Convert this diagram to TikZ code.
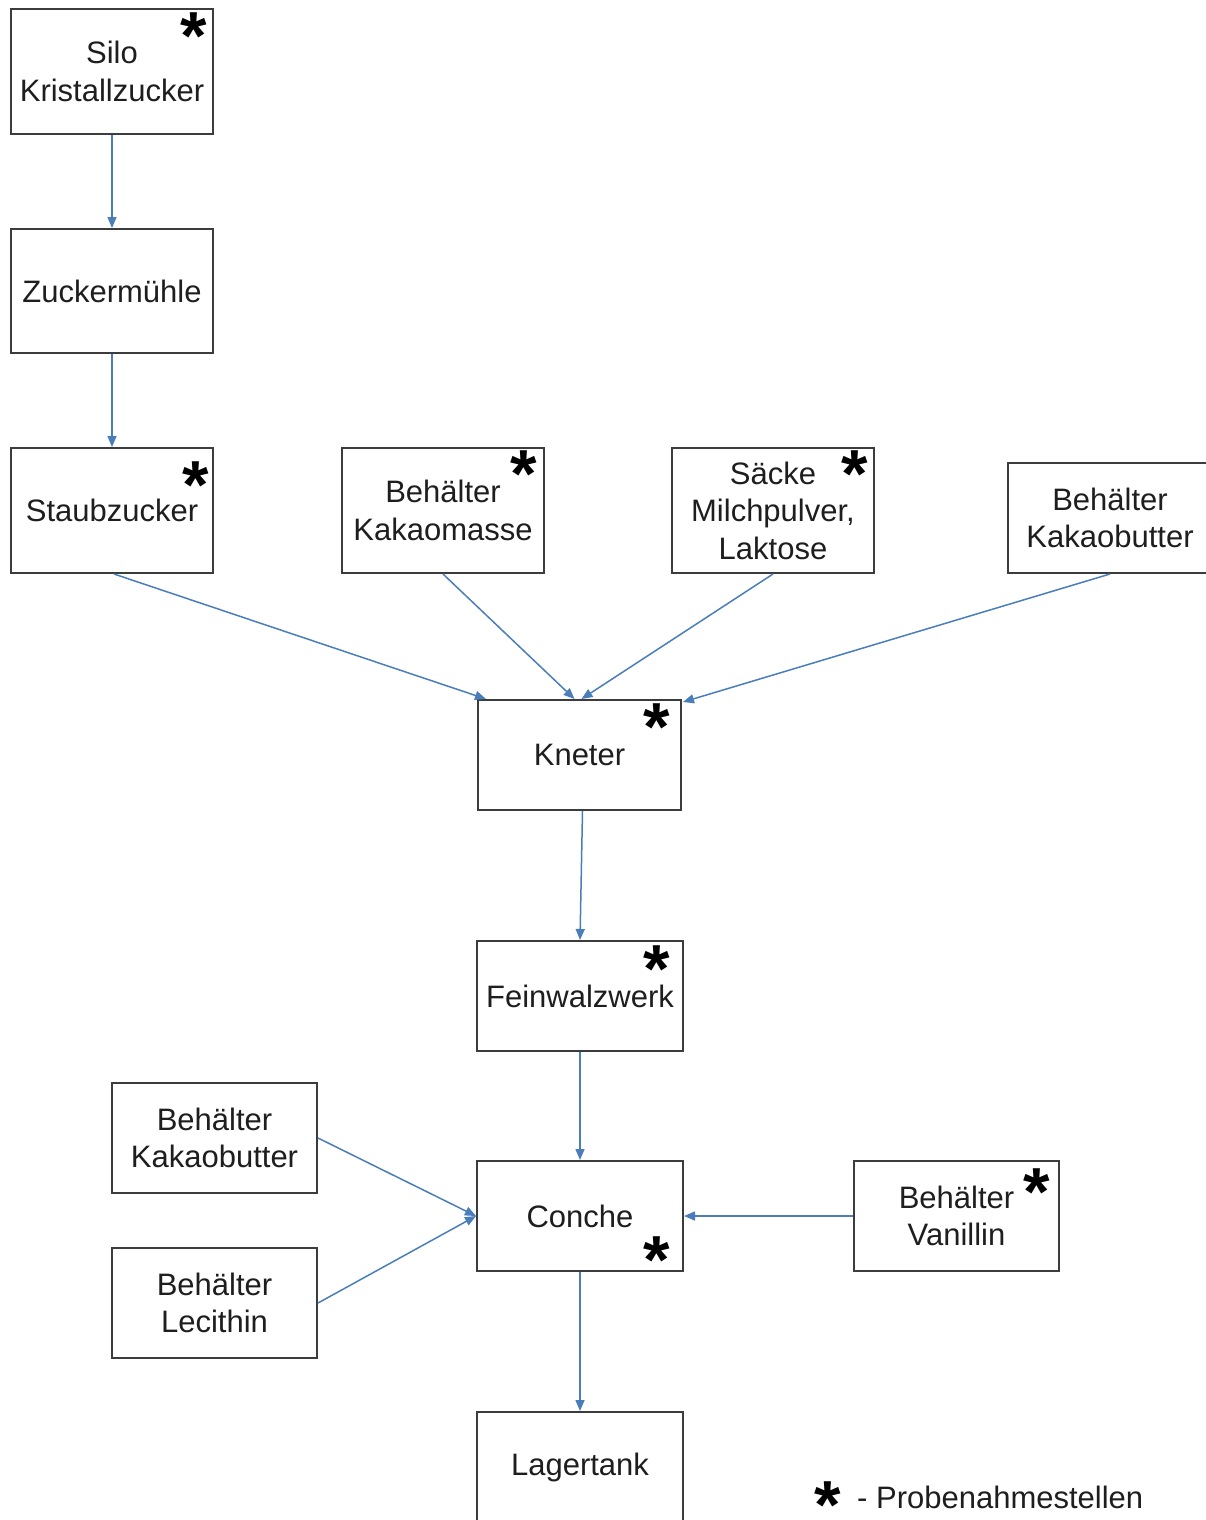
\documentclass[tikz,border=0pt]{standalone}
\usepackage{fontspec}
\setmainfont{Liberation Sans}
\usetikzlibrary{arrows.meta,calc}
\definecolor{flow}{HTML}{4A7EBB}
\definecolor{frame}{HTML}{3C3C3C}
\definecolor{ink}{HTML}{1E1E1E}
% asterisk glyph boxed tightly around its visible centre
\newcommand{\probemark}{\raisebox{-0.485em}[0.17em][0.17em]{*}}
\tikzset{
  box/.style={draw=frame, line width=2pt, fill=white, anchor=north west,
    inner sep=0pt, align=center, text=ink,
    font=\fontsize{31}{37.5}\selectfont},
  flowline/.style={draw=flow, line width=1.5pt,
    -{Triangle[length=11pt,width=9pt]}},
  probe/.style={inner sep=0pt, anchor=center, text=black,
    font=\fontsize{68}{68}\selectfont\bfseries},
}
\begin{document}
\begin{tikzpicture}[x=1pt,y=-1pt]
  \clip (0,0) rectangle (1206,1520);
  \fill[white] (0,0) rectangle (1206,1520);

  % sugar line
  \node[box, minimum width=202pt, minimum height=125pt] (silo)   at (10,8)    {Silo\\Kristallzucker};
  \node[box, minimum width=202pt, minimum height=124pt] (muehle) at (10,228)  {Zuckermühle};
  \node[box, minimum width=202pt, minimum height=125pt] (staub)  at (10,447)  {Staubzucker};

  % further raw materials
  \node[box, minimum width=202pt, minimum height=125pt] (masse)  at (341,447) {Behälter\\Kakaomasse};
  \node[box, minimum width=202pt, minimum height=125pt] (saecke) at (671,447) {Säcke\\Milchpulver,\\Laktose};
  \node[box, minimum width=204pt, minimum height=110pt] (butterA) at (1007,462) {Behälter\\Kakaobutter};

  % processing
  \node[box, minimum width=203pt, minimum height=110pt] (kneter) at (477,699)  {Kneter};
  \node[box, minimum width=206pt, minimum height=110pt] (walz)   at (476,940)  {Feinwalzwerk};
  \node[box, minimum width=206pt, minimum height=110pt] (conche) at (476,1160) {Conche};
  \node[box, minimum width=206pt, minimum height=110pt] (lager)  at (476,1411) {Lagertank};

  % additions to the conche
  \node[box, minimum width=205pt, minimum height=110pt] (butterB) at (111,1082) {Behälter\\Kakaobutter};
  \node[box, minimum width=205pt, minimum height=110pt] (leci)    at (111,1247) {Behälter\\Lecithin};
  \node[box, minimum width=205pt, minimum height=110pt] (vanil)   at (853,1160) {Behälter\\Vanillin};

  % sampling points
  \node[probe] (p1) at (194,27)    {\probemark};
  \node[probe] (p2) at (196,476)   {\probemark};
  \node[probe] (p3) at (524,465)   {\probemark};
  \node[probe] (p4) at (855,465)   {\probemark};
  \node[probe] (p5) at (657,718)   {\probemark};
  \node[probe] (p6) at (657,960)   {\probemark};
  \node[probe] (p7) at (1037,1183) {\probemark};
  \node[probe] (p8) at (657,1251)  {\probemark};

  % legend
  \node[probe] (p9) at (828,1496) {\probemark};
  \node[anchor=west, inner sep=0pt, text=ink, font=\fontsize{31}{37.5}\selectfont]
    (legend) at (857,1497) {- Probenahmestellen};

  % material flow
  \draw[flowline] (silo.south) -- (muehle.north);
  \draw[flowline] (muehle.south) -- (staub.north);
  \draw[flowline] ($(staub.south)+(2,0)$) -- ($(kneter.north west)+(9,0)$);
  \draw[flowline] (masse.south) -- ($(kneter.north)+(-5,0)$);
  \draw[flowline] (saecke.south) -- ($(kneter.north)+(2,0)$);
  \draw[flowline] (butterA.south) -- ($(kneter.north east)+(1,3)$);
  \draw[flowline] ($(kneter.south)+(3,0)$) -- (walz.north);
  \draw[flowline] (walz.south) -- (conche.north);
  \draw[flowline] (butterB.east) -- (conche.west);
  \draw[flowline] (leci.east) -- (conche.west);
  \draw[flowline] (vanil.west) -- (conche.east);
  \draw[flowline] (conche.south) -- (lager.north);
\end{tikzpicture}
\end{document}
